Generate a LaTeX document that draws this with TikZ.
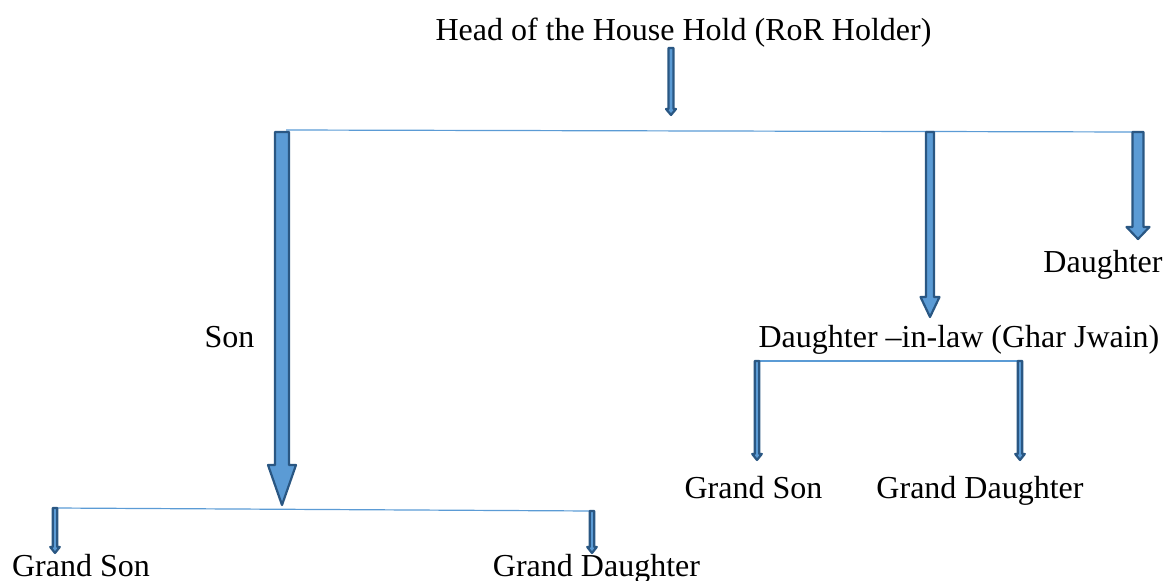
\documentclass[tikz,border=0pt]{standalone}
\usepackage{fontspec}
\setmainfont{Liberation Serif}
\usetikzlibrary{calc,positioning}

\definecolor{boxblue}{HTML}{5B9BD5}
\definecolor{edgeblue}{HTML}{2A5783}

% block arrow: start, end, half shaft, half head, head length
\newcommand{\famarrow}[5]{%
  \path[famarrow] let \p1=(#1), \p2=(#2) in
    (\x1-#3pt,\y1) -- (\x1+#3pt,\y1) -- (\x1+#3pt,\y2+#5pt) -- (\x1+#4pt,\y2+#5pt)
    -- (\x1,\y2) -- (\x1-#4pt,\y2+#5pt) -- (\x1-#3pt,\y2+#5pt) -- cycle;}

\begin{document}
\begin{tikzpicture}[x=1pt,y=-1pt,font=\fontsize{32}{38}\selectfont]

        \tikzstyle{every node}=[inner sep=0pt,anchor=base]
        \tikzstyle{famarrow}=[fill=boxblue,draw=edgeblue,line width=2.2pt,line join=round]
        \tikzstyle{branch}=[draw=boxblue,line width=1.2pt]

        \useasboundingbox (0,0) rectangle (1165,581);

        \node (A) at (683.5,40) {Head of the House Hold (RoR Holder)};
        \node (B) at (229.5,347) {Son};
        \node (C) at (959,347) {Daughter –in-law (Ghar Jwain)};
        \node (D) at (1103,272) {Daughter};
        \node (E) at (81,576) {Grand Son};
        \node (F) at (596.5,576) {Grand Daughter};
        \node (G) at (753.5,498) {Grand Son};
        \node (H) at (980,498) {Grand Daughter};

        \coordinate (A1) at (671,48);
        \coordinate (A2) at (671,115);

        \coordinate (L1) at (286,130);
        \coordinate (L2) at (1138,132);
        \coordinate (B1) at (282,132);
        \coordinate (B2) at (282,505);
        \coordinate (C1) at (930,132);
        \coordinate (C2) at (930,317);
        \coordinate (D1) at (1138,132);
        \coordinate (D2) at (1138,239);

        \coordinate (M1) at (55,508);
        \coordinate (M2) at (592,511);
        \coordinate (E1) at (55,553);
        \coordinate (F1) at (592,553);

        \coordinate (N1) at (757,361);
        \coordinate (N2) at (1020,361);
        \coordinate (G1) at (757,460);
        \coordinate (H1) at (1019,460);

        \path [branch] (L1) -- (L2);
        \path [branch] (M1) -- (M2);
        \path [branch] (N1) -- (N2);

        \famarrow{A1}{A2}{2.5}{5}{6}
        \famarrow{B1}{B2}{7}{14}{40}
        \famarrow{C1}{C2}{4}{9.5}{20}
        \famarrow{D1}{D2}{5.5}{11.5}{12}

        \famarrow{M1}{E1}{2.2}{4.8}{6}
        \famarrow{M2}{F1}{2.2}{4.8}{6}
        \famarrow{N1}{G1}{2.2}{4.8}{6}
        \famarrow{N2}{H1}{2.2}{4.8}{6}
      \end{tikzpicture}
\end{document}
